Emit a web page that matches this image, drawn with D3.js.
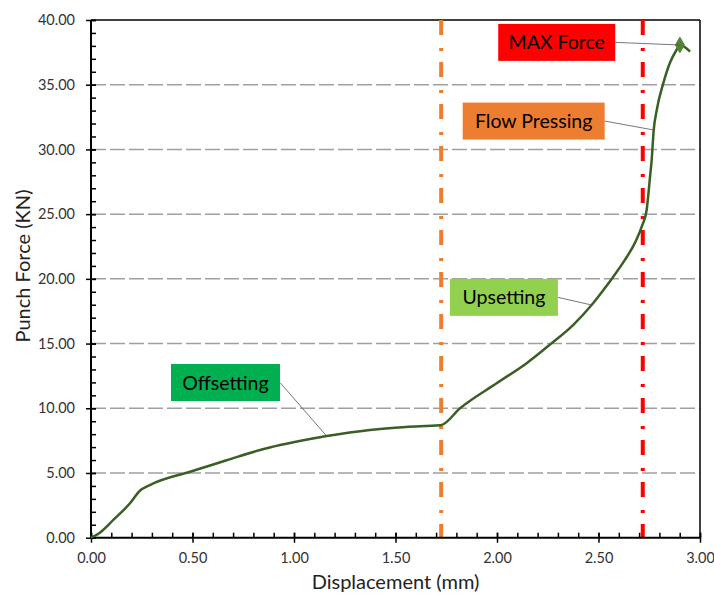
<!DOCTYPE html>
<html><head><meta charset="utf-8">
<script src="https://cdn.jsdelivr.net/npm/d3@7"></script>
<style>body{margin:0;background:#fff;} text{font-family:Lato, "Open Sans", sans-serif;}</style>
</head><body>
<svg id="c" width="714" height="595"></svg>
<script>
const displacement = [0,0.044,0.11,0.192,0.241,0.29,0.488,0.668,0.833,1.079,1.161,1.374,1.55,1.719,1.727,1.818,1.998,2.146,2.261,2.376,2.466,2.524,2.573,2.63,2.68,2.717,2.737,2.754,2.762,2.772,2.787,2.819,2.852,2.885,2.901,2.951];
const force =        [0,0.39,1.37,2.66,3.63,4.07,5.1,5.98,6.78,7.62,7.85,8.33,8.56,8.69,8.71,10.0,11.93,13.48,14.92,16.45,17.98,19.14,20.17,21.46,22.8,24.2,25.3,27.9,29.2,31.5,33.05,35.1,36.7,37.7,38.07,37.56];
const xTicks = [0,0.5,1,1.5,2,2.5,3];
const yTicks = [0,5,10,15,20,25,30,35,40];
const stageLines = [{x:1.725, color:"#ED7D31"},{x:2.718, color:"#FF0000"}];
const annotations = [
  {text:"MAX Force", color:"#FF0000", bx:2.006, by:39.7, tx:2.901, ty:38.07},
  {text:"Flow Pressing", color:"#ED7D31", bx:1.831, by:33.62, tx:2.772, ty:31.5},
  {text:"Upsetting", color:"#92D050", bx:1.768, by:20.0, tx:2.466, ty:17.98},
  {text:"Offsetting", color:"#00B050", bx:0.394, by:13.42, tx:1.161, ty:7.85}
];
const boxW = {"MAX Force":117,"Flow Pressing":142,"Upsetting":108,"Offsetting":109};

const svg = d3.select("#c");
const x = d3.scaleLinear().domain([0,3]).range([91,700]);
const y = d3.scaleLinear().domain([0,40]).range([537.7,20]);

// gridlines
svg.append("g").selectAll("line").data(yTicks.filter(v=>v>0&&v<40)).join("line")
  .attr("x1",x(0)).attr("x2",x(3)).attr("y1",d=>y(d)).attr("y2",d=>y(d))
  .attr("stroke","#A0A0A0").attr("stroke-width",1.5).attr("stroke-dasharray","15,4");

// border top & right
svg.append("line").attr("x1",x(0)).attr("x2",x(3)).attr("y1",y(40)).attr("y2",y(40)).attr("stroke","#000").attr("stroke-width",1.5);
svg.append("line").attr("x1",x(3)).attr("x2",x(3)).attr("y1",y(40)).attr("y2",y(0)).attr("stroke","#000").attr("stroke-width",1.5);

// stage lines
svg.append("g").selectAll("line").data(stageLines).join("line")
  .attr("x1",d=>x(d.x)).attr("x2",d=>x(d.x)).attr("y1",y(40)).attr("y2",y(0))
  .attr("stroke",d=>d.color).attr("stroke-width",4).attr("stroke-dasharray","15,13,3,11");

// axes
const xMinor = d3.range(0,3.001,0.1);
const yMinor = d3.range(0,40.001,1);
const gx = svg.append("g").attr("transform",`translate(0,${y(0)})`);
gx.call(d3.axisBottom(x).tickValues(xMinor).tickSize(-5).tickFormat(""))
  .call(g=>g.select(".domain").remove());
gx.call(g=>g.selectAll(".tick line").attr("stroke","#000").attr("stroke-width",1.5));
const gx2 = svg.append("g").attr("transform",`translate(0,${y(0)})`);
gx2.call(d3.axisBottom(x).tickValues(xTicks).tickSize(5).tickPadding(10).tickFormat(d3.format(".2f")));
gx2.select(".domain").remove();
gx2.selectAll(".tick line").attr("y1",-5).attr("stroke","#000").attr("stroke-width",1.5);
gx2.selectAll("text").attr("font-size",14.5).attr("fill","#333").attr("font-family","Lato");
svg.append("line").attr("x1",x(0)).attr("x2",x(3)).attr("y1",y(0)).attr("y2",y(0)).attr("stroke","#000").attr("stroke-width",2);

const gy = svg.append("g").attr("transform",`translate(${x(0)},0)`);
gy.call(d3.axisLeft(y).tickValues(yMinor).tickSize(-5).tickFormat(""));
gy.select(".domain").remove();
gy.selectAll(".tick line").attr("stroke","#000").attr("stroke-width",1.5);
const gy2 = svg.append("g").attr("transform",`translate(${x(0)},0)`);
gy2.call(d3.axisLeft(y).tickValues(yTicks).tickSize(5).tickPadding(11).tickFormat(d3.format(".2f")));
gy2.select(".domain").remove();
gy2.selectAll(".tick line").attr("x1",5).attr("stroke","#000").attr("stroke-width",1.5);
gy2.selectAll("text").attr("font-size",14.5).attr("fill","#333").attr("font-family","Lato");
svg.append("line").attr("x1",x(0)).attr("x2",x(0)).attr("y1",y(0)).attr("y2",y(40)).attr("stroke","#000").attr("stroke-width",2);

// curve
const pts = displacement.map((d,i)=>[d,force[i]]);
svg.append("path").datum(pts)
  .attr("d", d3.line().x(d=>x(d[0])).y(d=>y(d[1])).curve(d3.curveMonotoneX))
  .attr("fill","none").attr("stroke","#3A5F24").attr("stroke-width",2.5);

// max marker
const imax = d3.maxIndex(force);
svg.append("path").attr("d", d3.symbol(d3.symbolDiamond, 70)())
  .attr("transform",`translate(${x(displacement[imax])},${y(force[imax])})`)
  .attr("fill","#548235").attr("stroke","#548235");

// annotations
const boxH = 37;
annotations.forEach(a=>{
  const bx = x(a.bx), by = y(a.by), w = boxW[a.text];
  svg.append("line").attr("x1",bx+w).attr("y1",by+boxH/2).attr("x2",x(a.tx)).attr("y2",y(a.ty))
    .attr("stroke","#555").attr("stroke-width",0.8);
  svg.append("rect").attr("x",bx).attr("y",by).attr("width",w).attr("height",boxH).attr("fill",a.color);
  svg.append("text").attr("x",bx+w/2).attr("y",by+boxH/2+7).attr("text-anchor","middle")
    .attr("font-size",19.5).attr("fill","#000").text(a.text);
});

// axis titles
svg.append("text").attr("x",(x(0)+x(3))/2).attr("y",589).attr("text-anchor","middle")
  .attr("font-size",20).attr("fill","#222").text("Displacement (mm)");
svg.append("text").attr("transform",`translate(30,266) rotate(-90)`).attr("text-anchor","middle")
  .attr("font-size",20).attr("fill","#222").text("Punch Force (KN)");
</script>
</body></html>
